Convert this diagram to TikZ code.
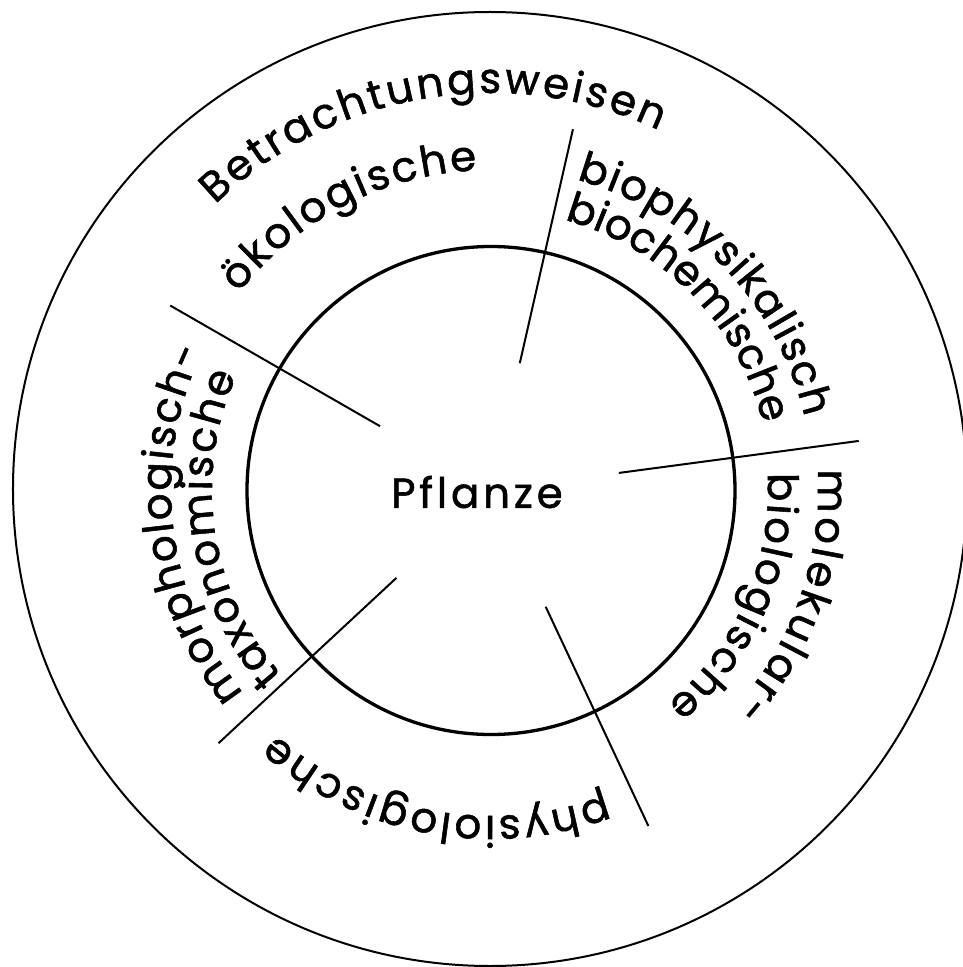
\documentclass[tikz,border=0pt]{standalone}
\usepackage{fontspec}
\setmainfont{Poppins}[FakeBold=1.3]
\newfontfamily\pflanzefont{Poppins}[FakeBold=1.3,LetterSpace=9]
\usetikzlibrary{decorations.text}
\newcommand\ringfont{\fontsize{42}{50}\selectfont}
\tikzset{
  ringtext/.style={decorate, decoration={text along path, text={|\ringfont|#1}, text align={fit to path}}},
  outerring/.style={draw=black, line width=2pt},
  innerring/.style={draw=black, line width=3.3pt},
  divider/.style={draw=black, line width=2pt},
}
\begin{document}
\begin{tikzpicture}
\useasboundingbox (-491pt,-477pt) rectangle (471pt,490pt);
% circles
\draw[outerring] (-1pt,1pt) circle[radius=477pt];
\draw[innerring] (0pt,-0.5pt) circle[radius=244pt];
% dividers
\coordinate (a1) at (77.2:130pt);  \coordinate (b1) at (77.2:370pt);
\coordinate (a2) at (7.6:129pt);   \coordinate (b2) at (7.6:371pt);
\coordinate (a3) at (-64.9:129pt); \coordinate (b3) at (-64.9:371pt);
\coordinate (a4) at (222.9:129pt); \coordinate (b4) at (222.9:372pt);
\coordinate (a5) at (150.1:128pt); \coordinate (b5) at (150.1:370pt);
\draw[divider] (a1) -- (b1);
\draw[divider] (a2) -- (b2);
\draw[divider] (a3) -- (b3);
\draw[divider] (a4) -- (b4);
\draw[divider] (a5) -- (b5);
% centre
\node[font=\pflanzefont\fontsize{42}{50}\selectfont, inner sep=0pt] (pflanze) at (-14pt,-2pt) {Pflanze};
% ring texts
\path[ringtext={Betrachtungsweisen}] (134:397pt) arc[start angle=134, end angle=65, radius=397pt];
\path[ringtext={ökologische}] (142:320pt) arc[start angle=142, end angle=92.5, radius=320pt];
\path[ringtext={biophysikalisch}] (74.6:322pt) arc[start angle=74.6, end angle=13.1, radius=322pt];
\path[ringtext={biochemische}] (74.8:280pt) arc[start angle=74.8, end angle=13.7, radius=280pt];
\path[ringtext={molekular-}] (3.6:327pt) arc[start angle=3.6, end angle=-42.1, radius=327pt];
\path[ringtext={biologische}] (3.5:277pt) arc[start angle=3.5, end angle=-50.5, radius=277pt];
\path[ringtext={physiologische}] (-69.5:326pt) arc[start angle=-69.5, end angle=-131.3, radius=326pt];
\path[ringtext={morphologisch-}] (219.4:320pt) arc[start angle=219.4, end angle=154.3, radius=320pt];
\path[ringtext={taxonomische}] (221.5:279pt) arc[start angle=221.5, end angle=155.8, radius=279pt];
\end{tikzpicture}
\end{document}
